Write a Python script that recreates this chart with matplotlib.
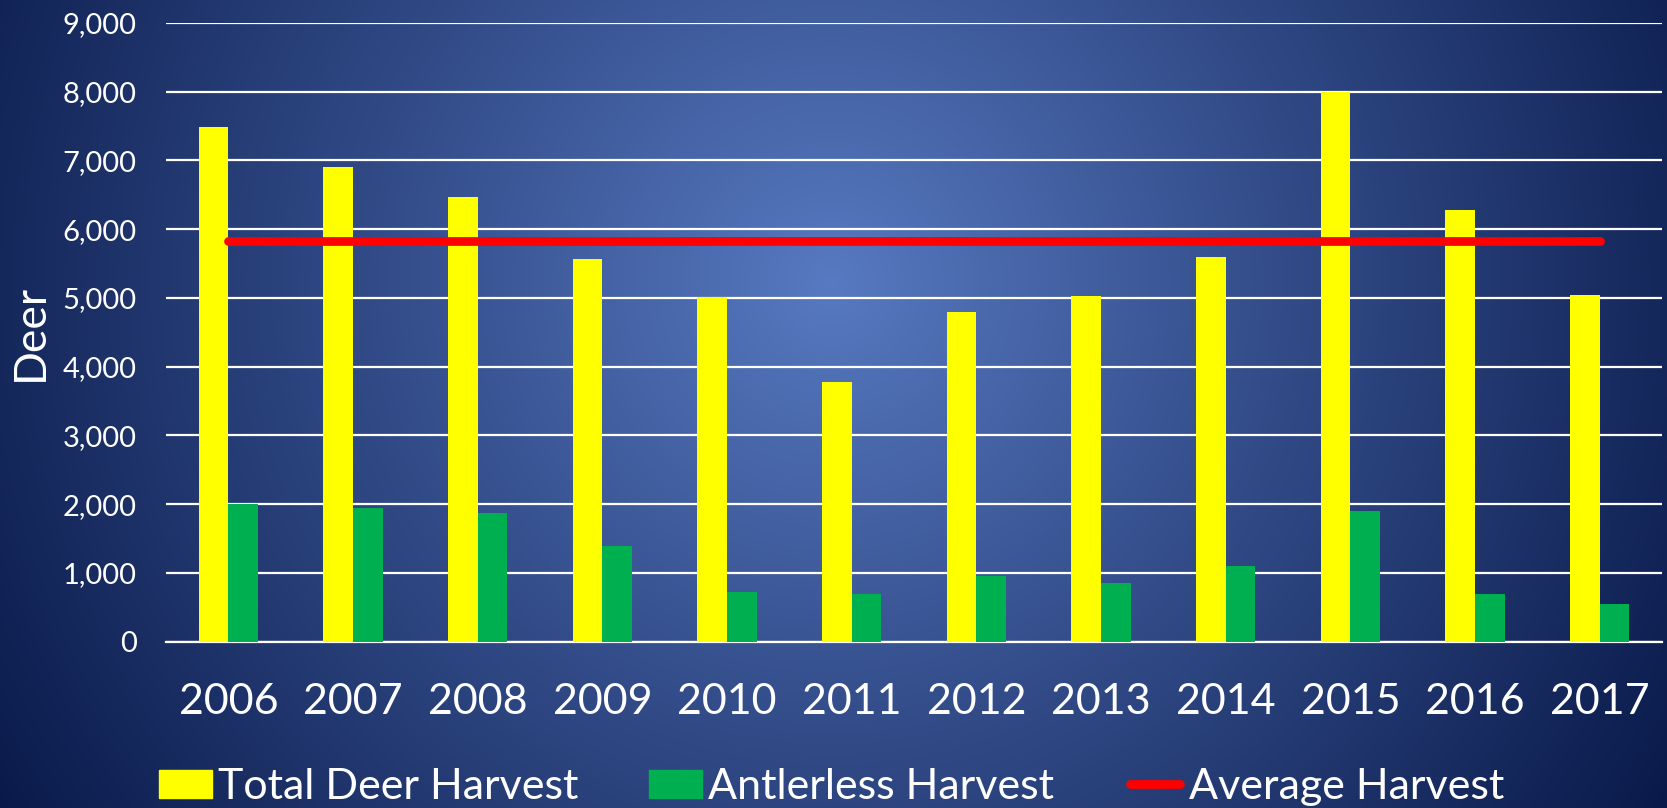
import numpy as np
import matplotlib
matplotlib.use("Agg")
import matplotlib.pyplot as plt
from matplotlib.patches import Patch
from matplotlib.lines import Line2D
from matplotlib.ticker import FuncFormatter

years = ["2006", "2007", "2008", "2009", "2010", "2011",
         "2012", "2013", "2014", "2015", "2016", "2017"]
total_harvest = [7480, 6900, 6470, 5560, 5010, 3780, 4800, 5030, 5590, 7990, 6280, 5040]
antlerless_harvest = [2000, 1940, 1870, 1390, 716, 690, 950, 850, 1095, 1895, 690, 540]
average_harvest = 5828
y_ticks = [0, 1000, 2000, 3000, 4000, 5000, 6000, 7000, 8000, 9000]

plt.rcParams["font.family"] = ["Lato", "DejaVu Sans"]

W, H = 1667, 808
fig = plt.figure(figsize=(W / 100, H / 100), dpi=100)

# radial background gradient, light blue centre to navy corners
bg = fig.add_axes([0, 0, 1, 1], zorder=-10)
yy, xx = np.mgrid[0:H, 0:W]
cx, cy = 830, 282
r = np.sqrt((xx - cx) ** 2 + (yy - cy) ** 2)
t = np.clip(r / 1000.0, 0, 1) ** 0.95
c_in = np.array([88, 122, 194]) / 255
c_out = np.array([8, 24, 72]) / 255
img = c_in[None, None, :] * (1 - t[..., None]) + c_out[None, None, :] * t[..., None]
bg.imshow(img, aspect="auto", extent=[0, 1, 0, 1], origin="upper")
bg.axis("off")

ax = fig.add_axes([166 / W, 1 - 641.5 / H, 1496 / W, 618.5 / H])
ax.set_facecolor("none")

x = np.arange(len(years))
w = 0.237
ax.bar(x - w / 2, total_harvest, w, color="#FFFF00", zorder=3)
ax.bar(x + w / 2, antlerless_harvest, w, color="#00B050", zorder=3)
ax.plot(x, [average_harvest] * len(years), color="#FF0000", lw=6.3,
        solid_capstyle="round", zorder=4)

ax.set_xlim(-0.5, len(years) - 0.5)
ax.set_ylim(0, 9000)
ax.set_yticks(y_ticks)
ax.yaxis.set_major_formatter(FuncFormatter(lambda v, p: f"{int(v):,}"))
ax.set_xticks(x)
ax.set_xticklabels(years)
ax.grid(axis="y", color="white", lw=1.6, zorder=1)
ax.set_axisbelow(True)
for s in ["top", "right", "left"]:
    ax.spines[s].set_visible(False)
ax.spines["bottom"].set_color("white")
ax.spines["bottom"].set_linewidth(1.6)
ax.tick_params(axis="y", length=0, pad=21, labelsize=21, labelcolor="white")
ax.tick_params(axis="x", length=0, pad=30, labelsize=31, labelcolor="white")
ax.set_ylabel("Deer", fontsize=32, color="white")
ax.yaxis.set_label_coords(-0.077, 0.5)

# legend, one entry at a time to keep the spacing of the original
entries = [
    (Patch(color="#FFFF00"), "Total Deer Harvest", 159, 1.24, 0.13),
    (Patch(color="#00B050"), "Antlerless Harvest", 649, 1.24, 0.13),
    (Line2D([], [], color="#FF0000", lw=6.3, solid_capstyle="round"),
     "Average Harvest", 1129.5, 1.18, 0.2),
]
for h, lab, px, hl, tp in entries:
    fig.legend([h], [lab], loc="center left", bbox_to_anchor=(px / W, 1 - 787 / H),
               frameon=False, fontsize=31, labelcolor="white",
               handlelength=hl, handleheight=0.62, handletextpad=tp,
               borderpad=0, borderaxespad=0)

fig.savefig("out.png", dpi=100)
